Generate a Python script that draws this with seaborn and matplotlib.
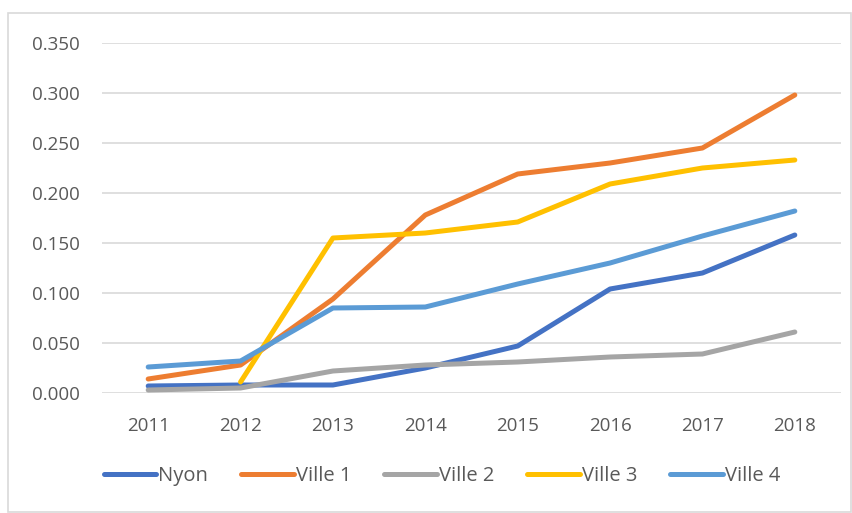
import numpy as np
import pandas as pd
import seaborn as sns
import matplotlib.pyplot as plt
from matplotlib.patches import Rectangle

years = [2011, 2012, 2013, 2014, 2015, 2016, 2017, 2018]
nyon = [0.007, 0.008, 0.008, 0.025, 0.047, 0.104, 0.120, 0.158]
ville1 = [0.014, 0.028, 0.094, 0.178, 0.219, 0.230, 0.245, 0.298]
ville2 = [0.003, 0.005, 0.022, 0.028, 0.031, 0.036, 0.039, 0.061]
ville3 = [np.nan, 0.011, 0.155, 0.160, 0.171, 0.209, 0.225, 0.233]
ville4 = [0.026, 0.032, 0.085, 0.086, 0.109, 0.130, 0.157, 0.182]

names = ["Nyon", "Ville 1", "Ville 2", "Ville 3", "Ville 4"]
colors = ["#4472C4", "#ED7D31", "#A5A5A5", "#FFC000", "#5B9BD5"]

df = pd.DataFrame({"Année": years, "Nyon": nyon, "Ville 1": ville1,
                   "Ville 2": ville2, "Ville 3": ville3, "Ville 4": ville4})
long_df = df.melt(id_vars="Année", var_name="Ville", value_name="Valeur")

sns.set_style("white")
plt.rcParams["font.family"] = ["Open Sans", "DejaVu Sans"]

fig = plt.figure(figsize=(8.52, 5.13), dpi=100)
ax = fig.add_axes([102 / 852, 1 - 393 / 513, (841 - 102) / 852, 350 / 513])

sns.lineplot(data=long_df, x="Année", y="Valeur", hue="Ville", hue_order=names,
             palette=colors, linewidth=3.6, ax=ax, solid_capstyle="round")

ax.set_xlim(2010.5, 2018.5)
ax.set_ylim(0, 0.35)
ax.set_xticks(years)
ax.set_xticklabels([str(y) for y in years])
ax.set_yticks(np.arange(0, 0.351, 0.05))
ax.set_yticklabels([f"{v:.3f}" for v in np.arange(0, 0.351, 0.05)])
ax.yaxis.grid(True, color="#D9D9D9", linewidth=1.2)
ax.set_axisbelow(True)
for s in ax.spines.values():
    s.set_visible(False)
ax.tick_params(axis="both", length=0, labelsize=13.5, labelcolor="#595959")
ax.tick_params(axis="y", pad=16)
ax.tick_params(axis="x", pad=17)
ax.set_xlabel("")
ax.set_ylabel("")

handles, labels = ax.get_legend_handles_labels()
for h in handles:
    h.set_linewidth(3.6)
    h.set_solid_capstyle("round")
leg = ax.legend(handles, labels, loc="center", bbox_to_anchor=(442 / 852, 1 - 476 / 513),
                bbox_transform=fig.transFigure, ncol=5, frameon=False,
                handlelength=2.6, handletextpad=0.1, columnspacing=1.65,
                fontsize=14.5)
for t in leg.get_texts():
    t.set_color("#595959")

fig.patches.append(Rectangle((8 / 852, 1 / 513), 843 / 852, 499 / 513,
                             transform=fig.transFigure, fill=False,
                             edgecolor="#D9D9D9", linewidth=1.2))

fig.savefig("out.png", dpi=100)
